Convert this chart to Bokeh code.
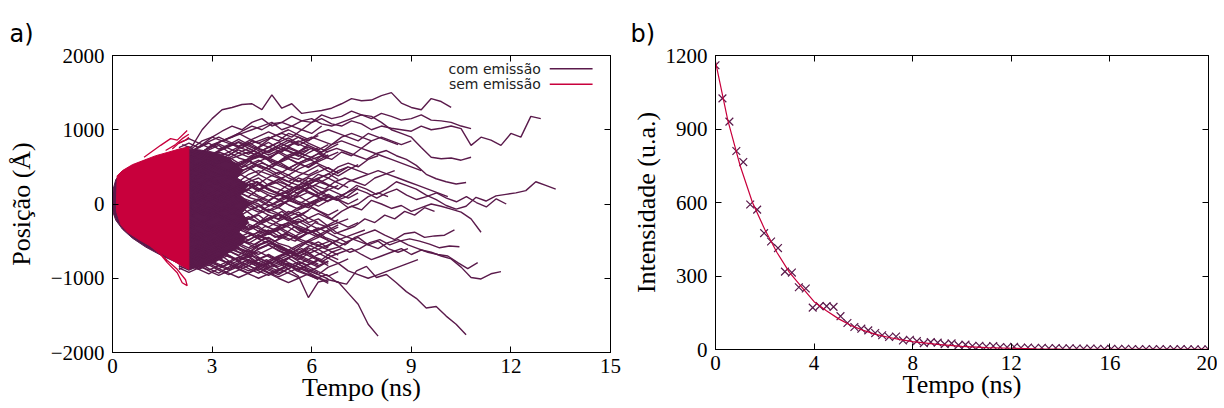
from bokeh.plotting import figure
from bokeh.models import FixedTicker, LinearAxis, Range1d, Title
from bokeh.layouts import row
from bokeh.embed import file_html
from bokeh.resources import INLINE
from bokeh.core.properties import value

PURPLE = "#5a1a4b"
RED = "#c8003c"
SERIF = "Liberation Serif"
SANS = "DejaVu Sans"

# ---------------- panel a data ----------------
STEP = 0.3  # ns between vertices of the traced trajectories
# long trajectories
traj_t0 = [2.1, 2.1, 2.1, 2.1, 2.25, 2.1, 2.1, 2.0, 1.95, 2.0, 1.95, 2.2, 2.05, 2.26,
           2.0, 2.1, 2.0, 2.2, 2.0, 2.1, 2.0, 2.2, 2.0, 2.1, 2.0, 2.2, 2.0, 2.1, 2.0, 2.3, 2.0, 2.1, 2.0]
traj_pos = [
    [700, 780, 1000, 1150, 1270, 1300, 1340, 1350, 1270, 1470, 1290, 1350, 1220, 1240, 1260, 1290, 1350, 1420, 1390, 1400, 1460, 1500, 1360, 1300, 1270, 1420, 1380, 1300],
    [650, 720, 800, 900, 980, 1050, 1000, 1100, 1150, 1050, 1100, 1180, 1120, 1100, 1200, 1150, 1180, 1250, 1200, 1150, 1220, 1180, 1130, 1150, 1200, 1130, 1120, 1100, 1050, 1016],
    [600, 650, 700, 780, 850, 900, 980, 1050, 1000, 1080, 1100, 1050, 1000, 1100, 1150, 1080, 1050, 1120, 1080, 1000, 1050, 1020, 1000, 980, 1050, 1000, 1020, 1050, 1016, 790, 900, 860, 790, 950, 900, 1180, 1150],
    [550, 620, 700, 800, 850, 900, 950, 1000, 1050, 1100, 1000, 1050, 1120, 1150, 1080, 1050, 1100, 1150, 1200, 1180, 1100, 1000, 950, 900, 760, 630, 610, 620, 590, 630],
    [100, 150, 50, 200, 120, 250, 180, 300, 220, 150, 250, 200, 280, 200, 120, 60, 150, 250, 200, 130, 200, 300, 250, 200, 120, 60, -20, -70, -30, 90, 40, 110, 130, 150, 180, 300, 250, 200],
    [-100, -50, -150, -80, -200, -120, -50, -150, -250, -180, -100, -200, -150, -50, -120, -200, -100, -30, -80, 50, 0, -60, -20, -100, -50, 0, -30, -70, -110, -200, -380],
    [-600, -700, -650, -750, -700, -800, -750, -700, -780, -850, -800, -700, -650, -720, -780, -700, -650, -600, -680, -750, -700, -650, -600, -680, -620, -650, -700, -740, -850, -990, -1010, -940, -910],
    [-500, -600, -550, -650, -600, -550, -650, -700, -600, -550, -620, -680, -600, -500, -550, -620, -580, -500, -450, -550, -600, -520, -480, -550, -600, -650, -680, -700, -790, -870, -790],
    [-500, -550, -600, -650, -600, -700, -750, -700, -800, -750, -850, -800, -900, -950, -1000, -950, -1050, -1080, -900, -840, -990, -950, -1060, -1180, -1270, -1400, -1380, -1510, -1620, -1760],
    [-600, -650, -700, -680, -750, -800, -720, -780, -850, -800, -790, -880, -970, -1260, -1050, -1020, -1050, -1200, -1350, -1620, -1780],
    [300, 350, 400, 450, 500, 450, 550, 600, 650, 600, 550, 650, 700, 650, 600, 700, 750, 700, 650, 600, 680, 720, 650, 600, 520, 400, 340, 300, 270, 290],
    [-300, -250, -350, -300, -400, -350, -450, -400, -300, -350, -450, -500, -400, -350, -450, -500, -550, -450, -400, -350, -420, -480, -400, -380, -450, -430, -420, -350],
    [-400, -450, -500, -550, -480, -520, -600, -650, -550, -500, -600, -650, -700, -620, -550, -500, -580, -650, -600, -520, -480, -550, -500, -470, -500, -540, -590, -565, -575],
    [200, 150, 250, 200, 100, 150, 250, 300, 200, 150, 100, 200, 250, 150, 100, 50, 100, 200, 150, 80, 150, 200, 120, 60, 100, 150, 80, 30, 100, 20, -40, 70, 0],
    [400, 500, 550, 600, 700, 650, 750, 800, 850, 900, 850, 950, 900, 850, 950, 1000, 950, 900, 850, 950, 900, 850, 800],
    [200, 300, 250, 350, 400, 350, 450, 500, 550, 500, 600, 650, 700, 750, 700, 800, 850, 800, 750, 850, 900, 850, 800, 850],
    [0, 100, 50, 150, 100, 200, 150, 100, 200, 250, 300, 250, 350, 300, 400, 350, 450, 500, 450, 400],
    [-200, -100, -150, -50, -100, 0, 50, -50, 0, 100, 150, 100, 200, 250, 200, 300, 350, 300, 250, 350, 400, 450],
    [-300, -350, -250, -300, -400, -350, -300, -200, -250, -150, -200, -100, -150, -250, -200, -300, -250, -200],
    [500, 450, 550, 500, 600, 550, 500, 600, 650, 550, 500, 450, 550, 600, 650, 600, 700, 650, 750, 700, 650, 600, 550, 500, 450],
    [-500, -550, -600, -500, -450, -550, -600, -650, -550, -500, -600, -650, -700, -650, -750, -800],
    [-700, -650, -600, -550, -650, -600, -500, -550, -450, -500, -400, -450, -500, -550, -600, -500, -450, -400, -350],
    [100, 50, 0, -50, -100, -50, -150, -200, -150, -250, -300, -250, -350, -400, -350, -300, -400, -450, -500, -550, -500, -600, -650, -600],
    [600, 650, 700, 650, 750, 800, 750, 850, 800, 900, 950, 900, 1000, 950, 1050],
    [300, 250, 350, 400, 300, 250, 200, 300, 350, 250, 200, 150, 250, 300, 350, 400, 500, 550, 500, 600, 650],
    [-400, -350, -450, -400, -500, -550, -450, -400, -350, -450, -400, -300, -350, -250, -300, -400, -350, -300, -200, -250, -150, -200, -100, -150, -50, -100],
    [700, 650, 600, 650, 550, 600, 650, 700, 650, 600, 700, 750, 700, 800],
    [-800, -750, -700, -800, -850, -750, -700, -650, -750, -800, -700, -650, -600, -700, -750, -650, -600],
    [0, -100, -50, -150, -50, 0, 100, 50, 0, -100, -50, 50, 0, -50, 50, 100, 50, -50, 0, 100, 150, 100],
    [400, 350, 450, 400, 350, 300, 400, 450, 400, 350, 300, 250, 350, 300, 250, 200, 300, 350, 400, 450, 400, 350, 300, 250, 200, 150, 100],
    [-200, -250, -300, -200, -150, -250, -300, -350, -300, -400, -450, -400],
    [800, 750, 850, 900, 850, 800, 750, 700, 800, 750, 700, 800, 850, 900, 850, 800, 900, 950, 900, 850],
    [-650, -700, -750, -650, -700, -600, -650, -700, -800, -850, -900, -800, -850, -900, -950, -850, -800, -900, -950, -1000, -950, -900, -850, -800, -750],
]
# shorter trajectories that make up the dense mesh just after the red block (start t = 2.0)
mesh_t0 = 2.0
mesh_pos = [
    [650, 710, 640, 730, 790, 700, 770, 830, 750, 700, 790, 860, 800],
    [600, 540, 630, 690, 590, 660, 730, 670, 760, 830, 750, 710, 640, 730],
    [500, 590, 510, 610, 660, 570, 530, 610, 690, 610, 710, 640, 600, 690, 760],
    [450, 390, 490, 560, 490, 440, 530, 590, 510, 470, 550, 610, 540, 500, 590, 660],
    [400, 470, 530, 450, 390, 360, 430, 490, 410, 510, 570, 490, 430, 390, 460],
    [350, 290, 390, 310, 250, 340, 410, 340, 270, 360, 430, 350, 300, 370, 430, 490, 410],
    [300, 370, 290, 230, 310, 370, 290, 250, 170, 260, 330, 250, 190, 270, 330, 250],
    [250, 190, 270, 330, 250, 210, 130, 210, 270, 190, 150, 70, 160, 230, 150],
    [200, 270, 190, 130, 210, 270, 330, 250, 190, 270, 330, 390, 310, 250, 340, 410, 330],
    [150, 90, 170, 90, 30, 110, 170, 90, 50, -30, 50, 110, 30, -10, 50],
    [100, 170, 230, 150, 90, 170, 230, 290, 210, 150, 110, 170, 230, 150, 90, 30],
    [50, -10, 70, 130, 50, -10, -70, 10, 70, -10, -50, -130, -50, 10, 70],
    [0, 70, -10, -70, 10, 70, 130, 190, 110, 50, 130, 190, 250, 170, 110, 190, 250],
    [-50, -110, -30, 30, -50, -110, -170, -90, -30, -110, -150, -230, -150, -90],
    [-100, -30, -110, -170, -90, -30, 30, -50, -110, -30, 30, 90, 10, -50, 30, 90],
    [-150, -210, -270, -190, -130, -210, -250, -330, -250, -190, -270, -310, -390, -310],
    [-200, -130, -210, -270, -330, -250, -190, -270, -330, -390, -310, -250, -330, -390, -450, -370, -310],
    [-250, -310, -230, -310, -370, -290, -230, -170, -250, -310, -230, -170, -110, -190, -250],
    [-300, -370, -430, -350, -290, -370, -410, -490, -410, -350, -430, -490, -410, -350, -430, -490],
    [-350, -290, -370, -430, -490, -410, -350, -290, -370, -410, -350, -290, -230, -310],
    [-400, -470, -390, -470, -530, -450, -530, -590, -510, -450, -530, -570, -650, -570, -510, -590],
    [-450, -390, -470, -530, -590, -510, -450, -390, -470, -530, -570, -650, -570, -510, -450],
    [-500, -570, -630, -550, -490, -570, -610, -690, -610, -550, -630, -690, -750, -670, -610, -690, -750],
    [-550, -490, -570, -630, -550, -630, -690, -610, -550, -490, -570, -630, -670, -610],
    [-600, -670, -590, -670, -730, -650, -590, -670, -730, -790, -710, -650, -730, -790, -850, -770],
    [-650, -710, -770, -690, -630, -710, -770, -830, -750, -690, -770, -830, -890, -810, -750],
    [-700, -770, -830, -750, -830, -890, -810, -750, -830, -890, -950, -870, -810, -890, -950, -1010],
    [-750, -690, -770, -830, -750, -690, -770, -830, -890, -810, -750, -690, -770, -830],
    [-800, -860, -790, -870, -930, -850, -790, -870, -930, -850, -790, -730, -810, -870, -930],
    [-850, -790, -870, -790, -730, -810, -870, -930, -850, -790, -870, -930, -990],
    [700, 770, 690, 630, 710, 770, 830, 750, 690, 770, 830, 890, 810, 750],
    [550, 490, 430, 510, 570, 630, 550, 490, 570, 630, 690, 610, 550, 490, 570, 630],
    [350, 410, 470, 530, 450, 390, 470, 530, 590, 510, 450, 390, 470, 530, 590],
    [-20, 50, 110, 30, 110, 170, 90, 30, -30, -90, -10, 50, 110, 30, -30, 50, 110],
    [-380, -310, -250, -330, -250, -190, -270, -330, -250, -190, -130, -210, -270],
    [-580, -510, -450, -530, -450, -390, -470, -530, -450, -390, -330, -410, -470, -390, -330],
    [720, 680, 760, 820, 740, 800, 870, 800, 740, 690, 760, 830, 900, 820, 760, 700],
    [620, 690, 630, 560, 640, 700, 620, 580, 650, 720, 790, 720, 660, 600, 680, 740, 810],
    [480, 420, 500, 570, 510, 440, 380, 460, 530, 470, 400, 480, 550, 610, 540, 480, 420, 500],
    [380, 450, 520, 440, 380, 450, 510, 580, 500, 440, 370, 300, 380, 450, 520, 440, 380, 460, 530],
    [260, 200, 280, 340, 270, 200, 260, 330, 400, 330, 270, 200, 140, 210, 280, 350, 280, 220],
    [120, 190, 250, 180, 110, 60, 130, 200, 260, 190, 130, 60, 0, 70, 140, 200, 140, 80, 150],
    [30, -40, 30, 100, 40, -30, -90, -20, 50, 120, 60, -10, -70, 0, 70, 130, 60, 0, 70],
    [-80, -20, -90, -150, -80, -20, 50, -20, -80, -150, -210, -140, -80, -20, -90, -150, -80],
    [-170, -240, -300, -230, -160, -220, -290, -350, -280, -220, -150, -220, -290, -350, -420, -350, -280],
    [-280, -220, -290, -360, -300, -240, -310, -380, -440, -370, -310, -380, -450, -390, -320, -390, -460, -530],
    [-420, -480, -410, -350, -420, -490, -550, -480, -420, -490, -560, -620, -550, -490, -420, -490, -560],
    [-520, -460, -530, -600, -540, -480, -550, -620, -680, -610, -550, -620, -690, -750, -680, -620, -690],
    [-620, -690, -750, -680, -620, -690, -760, -700, -640, -710, -780, -720, -660, -590, -660, -730, -800, -740],
    [-720, -660, -730, -790, -730, -800, -860, -800, -740, -680, -750, -820, -880, -820, -760, -830],
    [-830, -890, -830, -900, -960, -900, -840, -780, -850, -920, -980, -920, -860, -920, -990, -1050],
    [-880, -820, -880, -940, -870, -810, -880, -940, -1000, -940, -880, -820, -890, -950, -1020],
    [820, 880, 820, 760, 830, 890, 950, 880, 820, 880, 940, 1000, 930, 870],
    [560, 620, 680, 610, 550, 620, 690, 750, 680, 620, 560, 630, 700, 770, 700, 640, 700],
    [-350, -420, -480, -410, -350, -280, -340, -400, -470, -400, -340, -270, -200, -270, -340, -280, -210],
    [180, 240, 170, 110, 180, 250, 320, 260, 190, 120, 60, 130, 200, 270, 330, 260, 200],
    [-860, -920, -860, -800, -870, -930, -990, -930, -870, -930, -1000, -1060, -1000, -940, -1000, -1070],
    [-760, -820, -880, -820, -890, -950, -890, -830, -900, -960, -900, -840, -780, -840, -910, -970, -910],
    [-680, -740, -680, -750, -810, -870, -810, -750, -810, -870, -930, -870, -810, -750, -810],
    [-820, -760, -830, -890, -830, -770, -840, -900, -840, -780, -720, -790, -850, -910, -850],
    [-560, -620, -690, -750, -690, -630, -700, -760, -820, -760, -700, -640, -710, -770, -830, -770],
    [760, 820, 760, 840, 900, 840, 780, 850, 910, 970, 910, 850, 790, 860, 920],
    [680, 620, 690, 750, 810, 750, 690, 630, 700, 760, 830, 770, 710, 770],
    [600, 660, 720, 650, 720, 780, 840, 780, 720, 660, 720, 790, 850, 790, 730, 800],
    [520, 460, 530, 590, 650, 590, 530, 600, 660, 600, 540, 480, 550, 610, 680, 620],
    [-460, -400, -470, -530, -470, -410, -480, -540, -600, -540, -480, -420, -490, -550, -610, -550, -490],
    [80, 140, 80, 20, 80, 150, 210, 150, 90, 30, -30, 40, 100, 160, 100, 40, 100, 160, 220],
    [-120, -180, -120, -60, -120, -190, -250, -190, -130, -70, -130, -190, -250, -190, -130, -190, -250, -310, -250],
]

# dense core of the "com emissão" trajectories (outline)
core_t = [0.0, 0.02, 0.1, 0.3, 0.6, 1.0, 1.5, 2.0, 2.3, 2.6, 2.9, 3.2, 3.5, 3.7,
          3.95, 3.75, 4.1, 3.85, 4.15, 3.9, 4.1, 3.8, 4.0,
          3.6, 3.3, 3.0, 2.7, 2.3, 2.0, 1.5, 1.0, 0.6, 0.3, 0.1, 0.02]
core_pos = [0, 200, 330, 440, 520, 590, 650, 710, 740, 730, 710, 680, 620, 540,
            450, 350, 250, 120, 0, -120, -250, -380, -480,
            -620, -720, -790, -840, -880, -800, -700, -580, -460, -340, -220, -120]

# dense "sem emissão" region
red_t = [0.12, 0.14, 0.3, 0.6, 0.95, 1.3, 1.7, 2.0, 2.3, 2.3, 2.0, 1.7, 1.15, 0.8, 0.45, 0.25, 0.12]
red_pos = [0, 380, 450, 530, 590, 650, 700, 740, 770, -880, -810, -730, -570, -480, -380, -280, -100]
red_lines_t = [[0.95, 1.45, 1.75, 1.95, 2.25],
               [1.6, 1.9, 2.1, 2.3],
               [1.8, 2.0, 2.2, 2.3],
               [1.15, 1.45, 1.65, 1.95, 2.1, 2.25, 2.2, 1.95, 1.65, 1.4, 1.15]]
red_lines_pos = [[630, 790, 880, 860, 990],
                 [720, 800, 880, 940],
                 [740, 820, 860, 900],
                 [-565, -680, -790, -925, -1060, -1100, -1020, -880, -760, -650, -565]]

xa_ticks = [0, 3, 6, 9, 12, 15]
ya_ticks = [-2000, -1000, 0, 1000, 2000]
legend_labels = ["com emissão", "sem emissão"]
legend_colors = [PURPLE, RED]
legend_y = [1820, 1612]
legend_text_x = 12.9
legend_line_x = [13.17, 14.46]

# ---------------- panel b data ----------------
n_pts = 72
pts_t = [k * 20.0 / (n_pts - 1) for k in range(n_pts)]
pts_v = [1160, 1025, 930, 810, 765, 592, 571, 475, 441, 414, 318, 314, 254, 249, 171, 177, 177, 174,
         136, 108, 92, 85, 78, 67, 58, 51, 53, 37, 40, 34, 26, 30, 28, 22, 25, 18, 20, 14, 15, 12,
         14, 10, 9, 11, 7, 8, 6, 7, 5, 6, 4, 5, 4, 3, 4, 3, 2, 3, 2, 3, 2, 1, 2, 1, 2, 1, 1, 2, 1, 1, 0, 1]
fit_t = [0, 0.5, 1, 1.5, 2, 2.5, 3, 3.5, 4, 4.5, 5, 5.5, 6, 6.5, 7, 7.5, 8, 9, 10, 11, 12, 13, 14, 16, 18, 20]
fit_v = [1175, 935, 750, 600, 490, 395, 315, 255, 195, 158, 125, 98, 78, 62, 50, 40, 32, 21, 13, 8, 5, 3, 2, 1, 0.5, 0.2]
xb_ticks = [0, 4, 8, 12, 16, 20]
yb_ticks = [0, 300, 600, 900, 1200]


def style_axes(p, xt, yt):
    for ax in list(p.xaxis) + list(p.yaxis):
        ax.major_tick_in = 6
        ax.major_tick_out = 0
        ax.minor_tick_line_color = None
        ax.axis_line_color = "black"
        ax.major_tick_line_color = "black"
        ax.major_label_text_font = SERIF
        ax.major_label_text_font_size = "21px"
        ax.major_label_text_color = "black"
        ax.axis_label_text_font = SERIF
        ax.axis_label_text_font_size = "26px"
        ax.axis_label_text_font_style = "normal"
        ax.axis_label_text_color = "black"
    p.xaxis.ticker = FixedTicker(ticks=xt)
    p.yaxis.ticker = FixedTicker(ticks=yt)
    p.xaxis.major_label_standoff = 6
    p.yaxis.major_label_standoff = 8
    # mirrored tick marks on top and right (no labels)
    for loc, ticks in (("above", xt), ("right", yt)):
        ax = LinearAxis(ticker=FixedTicker(ticks=ticks), major_tick_in=6, major_tick_out=0,
                        minor_tick_line_color=None, major_label_text_font_size="1px",
                        major_label_text_color=None, major_label_standoff=0,
                        axis_line_color="black")
        p.add_layout(ax, loc)
    p.grid.visible = False
    p.outline_line_color = "black"


# ---------------- panel a ----------------
pa = figure(frame_width=498, frame_height=297, min_border_left=112, min_border_right=18,
            min_border_top=55, min_border_bottom=45, output_backend="svg", toolbar_location=None,
            x_range=Range1d(0, 15), y_range=Range1d(-2000, 2000),
            x_axis_label="Tempo (ns)", y_axis_label="Posição (Å)")
pa.title = Title(text="a)", align="left", offset=-103, text_font=SANS, text_font_size="24px",
                 text_font_style="normal", text_color="black", standoff=15)
pa.patch(core_t, core_pos, fill_color=PURPLE, line_color=PURPLE, line_width=1)
xs = [[t0 + STEP * i for i in range(len(ys))] for t0, ys in zip(traj_t0, traj_pos)]
xs += [[mesh_t0 + STEP * i for i in range(len(ys))] for ys in mesh_pos]
pa.multi_line(xs, traj_pos + mesh_pos, line_color=PURPLE, line_width=1.4)
pa.patch(red_t, red_pos, fill_color=RED, line_color=RED, line_width=1)
pa.multi_line(red_lines_t, red_lines_pos, line_color=RED, line_width=1.3)
pa.text(x=[legend_text_x] * 2, y=legend_y, text=legend_labels, text_align="right",
        text_baseline="middle", text_font=value(SANS), text_font_size="14px", text_color="#222222")
pa.segment(x0=[legend_line_x[0]] * 2, y0=legend_y, x1=[legend_line_x[1]] * 2, y1=legend_y,
           line_color=legend_colors, line_width=1.5)
style_axes(pa, xa_ticks, ya_ticks)
pa.yaxis.axis_label_standoff = 12
pa.xaxis.axis_label_standoff = -3

# ---------------- panel b ----------------
pb = figure(frame_width=493, frame_height=294, min_border_left=86, min_border_right=9,
            min_border_top=55, min_border_bottom=48, output_backend="svg", toolbar_location=None,
            x_range=Range1d(0, 20), y_range=Range1d(0, 1200),
            x_axis_label="Tempo (ns)", y_axis_label="Intensidade (u.a.)")
pb.title = Title(text="b)", align="left", offset=-85, text_font=SANS, text_font_size="24px",
                 text_font_style="normal", text_color="black", standoff=15)
pb.scatter(pts_t, pts_v, marker="x", size=11, line_color=PURPLE, line_width=1.2)
pb.line(fit_t, fit_v, line_color=RED, line_width=1.2)
style_axes(pb, xb_ticks, yb_ticks)
pb.yaxis.axis_label_standoff = 2
pb.xaxis.axis_label_standoff = -3

layout = row(pa, pb)
open("out.html", "w").write(file_html(layout, INLINE))
